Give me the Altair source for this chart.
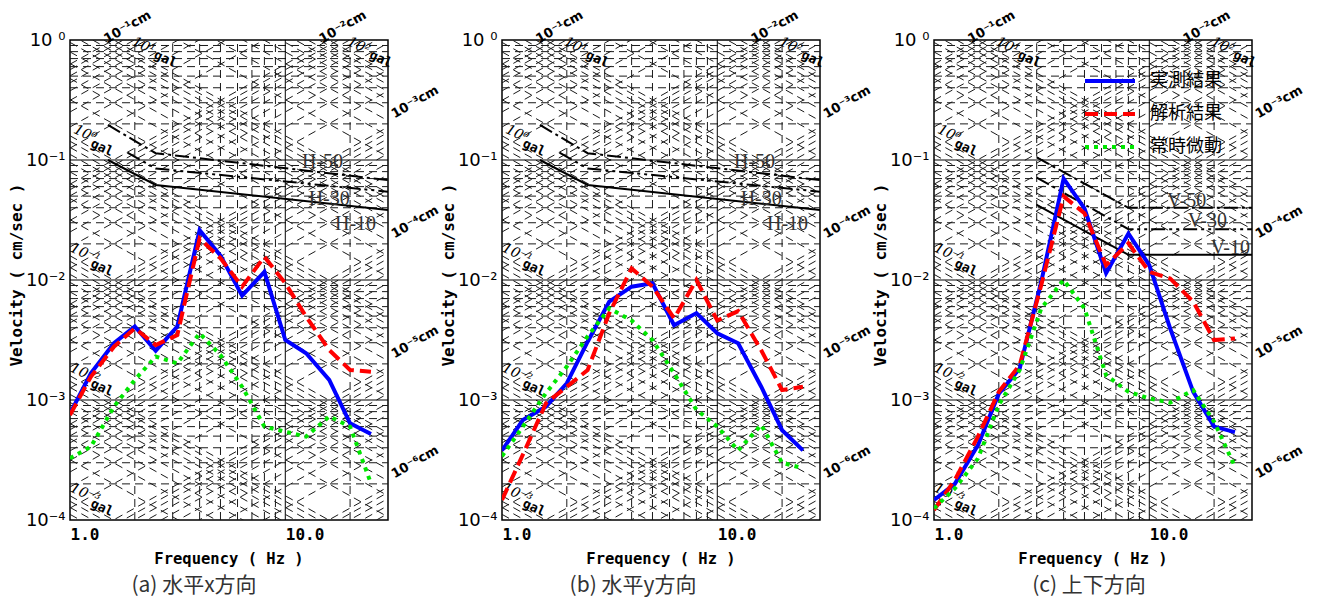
import math
import altair as alt
import pandas as pd

# ---------------- data ----------------
freq_hz = [1.0, 1.25, 1.6, 2.0, 2.5, 3.15, 4.0, 5.0, 6.3, 8.0, 10.0, 12.5, 16.0, 20.0, 25.0]

series_names = ["実測結果", "解析結果", "常時微動"]

# (a) horizontal x
a_measured = [7.7e-4, 1.67e-3, 2.97e-3, 4.1e-3, 2.58e-3, 4.1e-3, 2.6e-2, 1.6e-2, 7.4e-3, 1.17e-2, 3.16e-3, 2.45e-3, 1.47e-3, 6.4e-4, 5.2e-4]
a_analysis = [7.5e-4, 1.56e-3, 2.78e-3, 3.96e-3, 2.87e-3, 3.48e-3, 2.22e-2, 1.52e-2, 8.8e-3, 1.56e-2, 9.4e-3, 4.95e-3, 2.61e-3, 1.78e-3, 1.72e-3]
a_micro = [3.27e-4, 4.08e-4, 8.8e-4, 1.47e-3, 2.3e-3, 2.02e-3, 3.6e-3, 2.37e-3, 1.29e-3, 6.0e-4, 5.45e-4, 4.95e-4, 7.3e-4, 6.0e-4, 2.02e-4]

# (b) horizontal y
b_measured = [3.8e-4, 6.8e-4, 8.8e-4, 1.38e-3, 3.06e-3, 6.6e-3, 8.8e-3, 9.4e-3, 4.2e-3, 5.3e-3, 3.6e-3, 2.97e-3, 1.29e-3, 5.6e-4, 3.8e-4]
b_analysis = [1.47e-4, 3.5e-4, 9.4e-4, 1.29e-3, 1.78e-3, 5.3e-3, 1.25e-2, 8.8e-3, 4.8e-3, 1.0e-2, 4.6e-3, 5.5e-3, 2.6e-3, 1.21e-3, 1.29e-3]
b_micro = [3.4e-4, 6.0e-4, 1.14e-3, 1.9e-3, 3.4e-3, 5.8e-3, 4.6e-3, 3.16e-3, 1.67e-3, 8.3e-4, 6.0e-4, 3.8e-4, 6.2e-4, 3.0e-4, 2.7e-4]

# (c) vertical
c_measured = [1.47e-4, 2.0e-4, 4.2e-4, 1.13e-3, 1.83e-3, 9.7e-3, 7.0e-2, 3.95e-2, 1.14e-2, 2.44e-2, 1.33e-2, 3.95e-3, 1.17e-3, 6.0e-4, 5.4e-4]
c_analysis = [1.21e-4, 2.16e-4, 4.95e-4, 1.17e-3, 1.95e-3, 9.1e-3, 4.98e-2, 3.6e-2, 1.33e-2, 2.02e-2, 1.17e-2, 1.03e-2, 6.6e-3, 3.16e-3, 3.26e-3]
c_micro = [1.25e-4, 1.83e-4, 3.26e-4, 9.1e-4, 1.78e-3, 5.8e-3, 1.0e-2, 5.8e-3, 1.61e-3, 1.17e-3, 1.03e-3, 9.5e-4, 1.21e-3, 6.6e-4, 2.78e-4]

# evaluation curves (frequency, velocity)
h_names = ["H-50", "H-30", "H-10"]
h50_f, h50_v = [1.5, 2.5, 30.0], [0.196, 0.114, 0.068]
h30_f, h30_v = [1.85, 2.5, 30.0], [0.115, 0.085, 0.0544]
h10_f, h10_v = [1.5, 2.5, 30.0], [0.1, 0.062, 0.0383]
h_label_f = [14.9, 16.0, 21.2]
h_label_v = [0.0962, 0.0473, 0.0293]

v_names = ["V-50", "V-30", "V-10"]
v50_f, v50_v = [3.0, 8.0, 30.0], [0.105, 0.040, 0.040]
v30_f, v30_v = [3.0, 8.0, 30.0], [0.0714, 0.0265, 0.0265]
v10_f, v10_v = [3.0, 8.0, 30.0], [0.0423, 0.0162, 0.0162]
v_label_f = [14.9, 18.6, 23.8]
v_label_v = [0.0457, 0.031, 0.01845]

captions = ["(a)  水平x方向", "(b)  水平y方向", "(c)  上下方向"]

# axes / grid definitions
x_tick_values = [1.0, 10.0]
x_tick_labels = ["1.0", "10.0"]
y_tick_values = [1e-4, 1e-3, 1e-2, 1e-1, 1.0]
y_tick_labels = ["10⁻⁴", "10⁻³", "10⁻²", "10⁻¹", "10 ⁰"]
F_MIN, F_MAX = 1.0, 30.0
V_MIN, V_MAX = 1e-4, 1.0
minor_mults = [2, 3, 4, 5, 6, 7, 8, 9]
all_mults = [1, 2, 3, 4, 5, 6, 7, 8, 9]
v_decades = [-4, -3, -2, -1]
disp_decades = [-8, -7, -6, -5, -4, -3, -2, -1, 0]
acc_decades = [-4, -3, -2, -1, 0, 1, 2, 3]
v_major = [1e-3, 1e-2, 1e-1]
f_major = [10.0]
f_minor = [2, 3, 4, 5, 6, 7, 8, 9, 20]

disp_top_labels = [1e-1, 1e-2]
disp_top_text = ["10⁻¹cm", "10⁻²cm"]
disp_right_labels = [1e-3, 1e-4, 1e-5, 1e-6]
disp_right_text = ["10⁻³cm", "10⁻⁴cm", "10⁻⁵cm", "10⁻⁶cm"]
acc_left_labels = [1.0, 1e-1, 1e-2, 1e-3]
acc_left_text = ["10⁰", "10⁻¹", "10⁻²", "10⁻³"]
acc_top_labels = [10.0, 100.0]
acc_top_text = ["10¹", "10²"]

TWO_PI = 2 * math.pi

# ---------------- build grid tables ----------------
minor_rows = []
for k in v_decades:
    for m in minor_mults:
        v = m * 10 ** k
        minor_rows.append(dict(f1=F_MIN, f2=F_MAX, v1=v, v2=v))
for f in f_minor:
    minor_rows.append(dict(f1=f, f2=f, v1=V_MIN, v2=V_MAX))
for k in disp_decades:
    for m in all_mults:
        d = m * 10 ** k
        v1, v2 = TWO_PI * F_MIN * d, TWO_PI * F_MAX * d
        if v2 > V_MIN and v1 < V_MAX:
            minor_rows.append(dict(f1=F_MIN, f2=F_MAX, v1=v1, v2=v2))
for k in acc_decades:
    for m in all_mults:
        a = m * 10 ** k
        v1, v2 = a / (TWO_PI * F_MIN), a / (TWO_PI * F_MAX)
        if v1 > V_MIN and v2 < V_MAX:
            minor_rows.append(dict(f1=F_MIN, f2=F_MAX, v1=v1, v2=v2))
minor_df = pd.DataFrame(minor_rows)

major_rows = [dict(f1=F_MIN, f2=F_MAX, v1=v, v2=v) for v in v_major]
major_rows += [dict(f1=f, f2=f, v1=V_MIN, v2=V_MAX) for f in f_major]
major_df = pd.DataFrame(major_rows)

disp_top_df = pd.DataFrame(dict(f=[1 / (TWO_PI * d) for d in disp_top_labels], v=[1.0] * len(disp_top_labels), t=disp_top_text))
disp_right_df = pd.DataFrame(dict(f=[F_MAX] * len(disp_right_labels), v=[TWO_PI * F_MAX * d for d in disp_right_labels], t=disp_right_text))
acc_left_df = pd.DataFrame(dict(f=[F_MIN] * len(acc_left_labels), v=[a / (TWO_PI * F_MIN) for a in acc_left_labels], t=acc_left_text))
acc_top_df = pd.DataFrame(dict(f=[a / TWO_PI for a in acc_top_labels], v=[1.0] * len(acc_top_labels), t=acc_top_text))


def label_expr(values, labels):
    expr = "'" + labels[-1] + "'"
    for i in range(len(values) - 2, -1, -1):
        mid = math.sqrt(values[i] * values[i + 1])
        expr = f"datum.value < {mid} ? '{labels[i]}' : ({expr})"
    return expr


xs = alt.Scale(type="log", domain=[F_MIN, F_MAX], nice=False)
ys = alt.Scale(type="log", domain=[V_MIN, V_MAX], nice=False)

x_axis = alt.Axis(values=x_tick_values, labelExpr=label_expr(x_tick_values, x_tick_labels),
                  grid=False, ticks=False, domain=False, title=None,
                  labelFont="DejaVu Sans Mono", labelFontWeight="bold", labelFontSize=16,
                  labelColor="black", labelAlign="left", labelPadding=6, labelFlush=False)
y_axis = alt.Axis(values=y_tick_values, labelExpr=label_expr(y_tick_values, y_tick_labels),
                  grid=False, ticks=False, domain=False, title=None,
                  labelFont="DejaVu Sans", labelFontSize=18, labelColor="black",
                  labelPadding=5, labelFlush=False)

W, H = 318, 480
GRID_COLOR = "#1a1a1a"


def xy(fcol="f", vcol="v"):
    return dict(x=alt.X(f"{fcol}:Q", scale=xs, axis=x_axis), y=alt.Y(f"{vcol}:Q", scale=ys, axis=y_axis))


def make_panel(measured, analysis, micro, crit_f, crit_v, crit_names, lab_f, lab_v, caption, cap_x, legend):
    layers = []
    # minor dashed grid
    layers.append(alt.Chart(minor_df).mark_rule(stroke=GRID_COLOR, strokeWidth=1, strokeDash=[8, 5], clip=True).encode(
        x=alt.X("f1:Q", scale=xs, axis=x_axis), x2="f2:Q",
        y=alt.Y("v1:Q", scale=ys, axis=y_axis), y2="v2:Q"))
    layers.append(alt.Chart(major_df).mark_rule(stroke="black", strokeWidth=1, clip=True).encode(
        x=alt.X("f1:Q", scale=xs, axis=x_axis), x2="f2:Q",
        y=alt.Y("v1:Q", scale=ys, axis=y_axis), y2="v2:Q"))
    # evaluation curves
    dashes = [[14, 4, 3, 4], [14, 4, 3, 4, 3, 4], None]
    for cf, cv, dash in zip(crit_f, crit_v, dashes):
        df = pd.DataFrame(dict(f=cf, v=cv))
        kw = dict(stroke="black", strokeWidth=2, clip=True)
        if dash:
            kw["strokeDash"] = dash
        layers.append(alt.Chart(df).mark_line(**kw).encode(**xy()))
    lab_df = pd.DataFrame(dict(f=lab_f, v=lab_v, t=crit_names))
    layers.append(alt.Chart(lab_df).mark_text(font="Liberation Serif", fontSize=20, color="#333333").encode(
        text="t:N", **xy()))
    # displacement / acceleration labels
    layers.append(alt.Chart(disp_top_df).mark_text(font="DejaVu Sans", fontWeight="bold", fontSize=13, angle=330,
                                                   xOffset=14, yOffset=-13, color="black").encode(text="t:N", **xy()))
    layers.append(alt.Chart(disp_right_df).mark_text(font="DejaVu Sans", fontWeight="bold", fontSize=13, angle=330,
                                                     xOffset=27, yOffset=-25, color="black").encode(text="t:N", **xy()))
    layers.append(alt.Chart(acc_left_df).mark_text(font="DejaVu Serif", fontStyle="italic", fontSize=14, angle=25,
                                                   xOffset=15, yOffset=-2, color="black").encode(text="t:N", **xy()))
    layers.append(alt.Chart(acc_left_df).mark_text(font="DejaVu Sans Mono", fontWeight="bold", fontSize=13, angle=25,
                                                   xOffset=32, yOffset=12, color="black").encode(text=alt.value("gal"), **xy()))
    layers.append(alt.Chart(acc_top_df).mark_text(font="DejaVu Serif", fontStyle="italic", fontSize=14, angle=25,
                                                  xOffset=30, yOffset=6, color="black").encode(text="t:N", **xy()))
    layers.append(alt.Chart(acc_top_df).mark_text(font="DejaVu Sans Mono", fontWeight="bold", fontSize=13, angle=25,
                                                  xOffset=52, yOffset=19, color="black").encode(text=alt.value("gal"), **xy()))
    # data series
    styles = [
        dict(stroke="#0000ff", strokeWidth=4),
        dict(stroke="#ff0000", strokeWidth=4, strokeDash=[13, 6]),
        dict(stroke="#00e600", strokeWidth=4, strokeDash=[4, 5]),
    ]
    for vals, st in zip([measured, analysis, micro], styles):
        df = pd.DataFrame(dict(f=freq_hz, v=vals))
        layers.append(alt.Chart(df).mark_line(clip=True, **st).encode(**xy()))
    # legend
    if legend:
        for i, (name, st) in enumerate(zip(series_names, styles)):
            one = pd.DataFrame(dict(t=[name]))
            ypix = 41 + 33 * i
            layers.append(alt.Chart(one).mark_rule(**st).encode(
                x=alt.value(151), x2=alt.value(201), y=alt.value(ypix)))
            layers.append(alt.Chart(one).mark_text(font="Noto Sans CJK JP", fontSize=18, align="left",
                                                   baseline="middle", color="black").encode(
                text="t:N", x=alt.value(216), y=alt.value(ypix)))
    # titles
    one = pd.DataFrame(dict(t=["Velocity ( cm/sec )"]))
    layers.append(alt.Chart(one).mark_text(font="DejaVu Sans Mono", fontWeight="bold", fontSize=16, angle=270,
                                           color="black").encode(text="t:N", x=alt.value(-53), y=alt.value(H / 2 - 5)))
    one = pd.DataFrame(dict(t=["Frequency ( Hz )"]))
    layers.append(alt.Chart(one).mark_text(font="DejaVu Sans Mono", fontWeight="bold", fontSize=15.5,
                                           color="black").encode(text="t:N", x=alt.value(W / 2), y=alt.value(H + 39)))
    one = pd.DataFrame(dict(t=[caption]))
    layers.append(alt.Chart(one).mark_text(font="Noto Sans CJK JP", fontSize=21,
                                           color="#333333").encode(text="t:N", x=alt.value(cap_x), y=alt.value(H + 66)))
    return alt.layer(*layers).properties(width=W, height=H)


pa = make_panel(a_measured, a_analysis, a_micro, [h50_f, h30_f, h10_f], [h50_v, h30_v, h10_v], h_names,
                h_label_f, h_label_v, captions[0], 124, False)
pb = make_panel(b_measured, b_analysis, b_micro, [h50_f, h30_f, h10_f], [h50_v, h30_v, h10_v], h_names,
                h_label_f, h_label_v, captions[1], 131, False)
pc = make_panel(c_measured, c_analysis, c_micro, [v50_f, v30_f, v10_f], [v50_v, v30_v, v10_v], v_names,
                v_label_f, v_label_v, captions[2], 155, True)

chart = alt.hconcat(pa, pb, pc, spacing=114, bounds="flush").properties(
    padding={"left": 0, "top": 0, "right": 0, "bottom": 0}
).configure(background="white").configure_view(stroke="black", strokeWidth=1.5)

chart.save("out.html", embed_options={"renderer": "svg", "actions": False})
